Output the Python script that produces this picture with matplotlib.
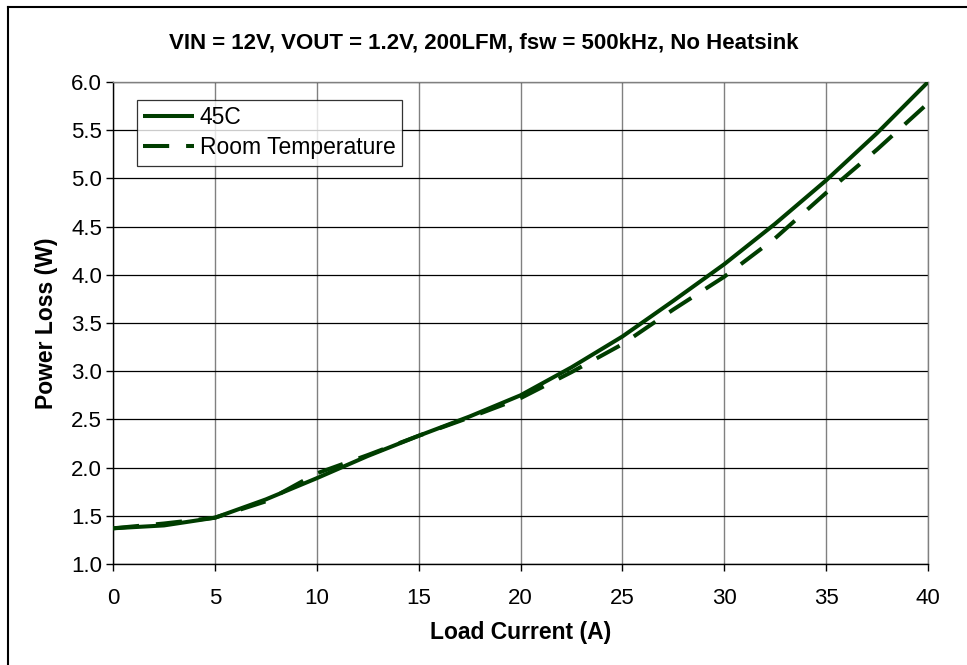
import matplotlib
matplotlib.use("Agg")
import matplotlib.pyplot as plt
from matplotlib.lines import Line2D

plt.rcParams['font.family'] = ['Liberation Sans', 'DejaVu Sans']

# values
load_current = [0, 2.5, 5, 7.5, 10, 12.5, 15, 17.5, 20, 22.5, 25, 27.5, 30, 32.5, 35, 37.5, 40]
loss_45c = [1.37, 1.40, 1.48, 1.67, 1.89, 2.12, 2.33, 2.53, 2.75, 3.04, 3.36, 3.73, 4.11, 4.53, 4.98, 5.47, 6.0]
loss_room = [1.37, 1.42, 1.48, 1.65, 1.94, 2.13, 2.33, 2.52, 2.72, 2.99, 3.28, 3.64, 3.98, 4.38, 4.85, 5.30, 5.78]

x_ticks = [0, 5, 10, 15, 20, 25, 30, 35, 40]
y_ticks = [1.0, 1.5, 2.0, 2.5, 3.0, 3.5, 4.0, 4.5, 5.0, 5.5, 6.0]

title = "VIN = 12V, VOUT = 1.2V, 200LFM, fsw = 500kHz, No Heatsink"
line_color = "#003d00"

fig = plt.figure(figsize=(9.67, 6.65), dpi=100)
ax = fig.add_axes([0.1169, 0.1519, 0.8428, 0.7248])

# frame of the chart area (only left and top edges show in the picture)
fig.add_artist(Line2D([0.0083, 0.0083], [0, 0.989], transform=fig.transFigure, color="black", lw=1.5))
fig.add_artist(Line2D([0.0083, 1.0], [0.989, 0.989], transform=fig.transFigure, color="black", lw=1.5))

ax.plot(load_current, loss_45c, color=line_color, lw=2.9, solid_capstyle="butt", label="45C", zorder=3)
ax.plot(load_current, loss_room, color=line_color, lw=2.9, linestyle=(0, (6.5, 4.2)),
        label="Room Temperature", zorder=3)

ax.set_xlim(0, 40)
ax.set_ylim(1.0, 6.0)
ax.set_xticks(x_ticks)
ax.set_yticks(y_ticks)
ax.set_xticklabels([str(v) for v in x_ticks])
ax.set_yticklabels([f"{v:.1f}" for v in y_ticks])

ax.xaxis.grid(True, color="#808080", lw=1.0)
ax.yaxis.grid(True, color="black", lw=0.9)
ax.set_axisbelow(True)

for side in ["top", "right"]:
    ax.spines[side].set_color("#808080")
for side in ["left", "bottom"]:
    ax.spines[side].set_color("black")
for sp in ax.spines.values():
    sp.set_linewidth(1.0)

ax.tick_params(direction="out", length=5, width=1, labelsize=16, colors="black")
ax.tick_params(axis="x", pad=12)
ax.tick_params(axis="y", pad=3)

ax.set_xlabel("Load Current (A)", fontsize=16.5, fontweight="bold", labelpad=9)
ax.set_ylabel("Power Loss (W)", fontsize=16.5, fontweight="bold", labelpad=9)

# chart title is centred on the whole chart area, not the plot area
fig.text(0.5, 0.935, title, fontsize=16, fontweight="bold", ha="center", va="center")

leg = ax.legend(loc="upper left", bbox_to_anchor=(0.0294, 0.963), fontsize=16.5, frameon=True,
                fancybox=False, edgecolor="black", handlelength=2.2, handletextpad=0.25,
                borderpad=0.28, labelspacing=0.3, borderaxespad=0)
leg.get_frame().set_linewidth(0.9)

fig.savefig("out.png", dpi=100)
